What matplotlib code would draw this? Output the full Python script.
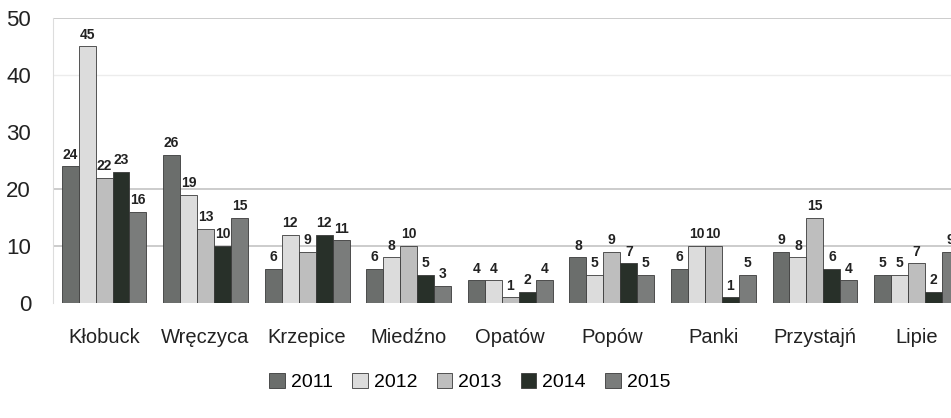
import numpy as np
import matplotlib.pyplot as plt

plt.rcParams['font.family'] = ['Liberation Sans', 'DejaVu Sans']

gminy = ["Kłobuck", "Wręczyca", "Krzepice", "Miedźno", "Opatów",
         "Popów", "Panki", "Przystajń", "Lipie"]
years = ["2011", "2012", "2013", "2014", "2015"]
v2011 = [24, 26, 6, 6, 4, 8, 6, 9, 5]
v2012 = [45, 19, 12, 8, 4, 5, 10, 8, 5]
v2013 = [22, 13, 9, 10, 1, 9, 10, 15, 7]
v2014 = [23, 10, 12, 5, 2, 7, 1, 6, 2]
v2015 = [16, 15, 11, 3, 4, 5, 5, 4, 9]
series = [v2011, v2012, v2013, v2014, v2015]
colors = ["#6b6e6c", "#dcdcdc", "#bebebe", "#283029", "#7a7c7b"]

fig = plt.figure(figsize=(9.51, 4.18), dpi=100)
ax = fig.add_axes([0.056, 0.275, 0.944, 0.682])

x = np.arange(len(gminy))
w = 0.167
for k in range(5):
    pos = x + (k - 2) * w
    bars = ax.bar(pos, series[k], w, color=colors[k], edgecolor="#3a3a3a",
                  linewidth=0.6, label=years[k], zorder=2)
    for b, v in zip(bars, series[k]):
        ax.text(b.get_x() + b.get_width() / 2, v + 0.8, str(v),
                ha="center", va="bottom", fontsize=10, fontweight="bold",
                color="#222222", clip_on=True)

ax.set_ylim(0, 50)
ax.set_xlim(-0.5, 8.34)
ax.set_yticks([0, 10, 20, 30, 40, 50])
ax.set_xticks(x)
ax.set_xticklabels(gminy, fontsize=14.5)
ax.tick_params(axis="y", labelsize=16, length=0, pad=16)
ax.tick_params(axis="x", length=0, pad=18)
for lab in ax.get_yticklabels():
    lab.set_color("#222222")
for lab in ax.get_xticklabels():
    lab.set_color("#222222")

for y in [10, 20, 50]:
    ax.axhline(y, color="#c4c4c4", linewidth=1.2, zorder=1)
ax.axhline(40, color="#ececec", linewidth=1, zorder=1)

for s in ["top", "right", "bottom"]:
    ax.spines[s].set_visible(False)
ax.spines["left"].set_color("#dddddd")

fig.legend(loc="center", bbox_to_anchor=(0.494, 0.086), ncol=5,
           frameon=False, fontsize=14, handlelength=0.8, handleheight=0.8,
           handletextpad=0.3, columnspacing=1.0)

fig.savefig("out.png", dpi=100)
